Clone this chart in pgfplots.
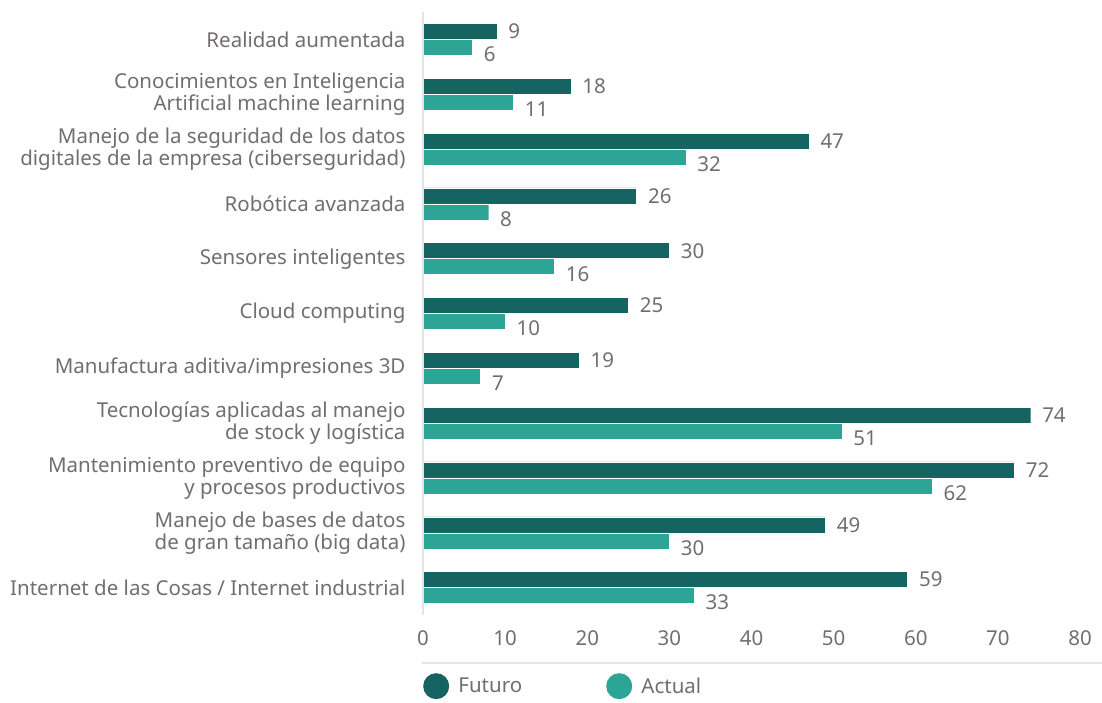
\documentclass[border=0pt]{standalone}
\usepackage{pgfplots}
\pgfplotsset{compat=1.18}
\usepackage{fontspec}
\setmainfont{Noto Sans}
\definecolor{futuro}{RGB}{22,100,98}
\definecolor{actual}{RGB}{44,165,151}
\definecolor{txt}{RGB}{115,110,110}
\definecolor{axisgray}{RGB}{228,228,228}
\begin{document}
\begin{tikzpicture}
\path[use as bounding box] (0pt,0pt) rectangle (1102pt,702pt);
\begin{axis}[
  at={(423pt,87pt)}, anchor=south west,
  width=657pt, height=603pt, scale only axis,
  xbar, bar width=16pt,
  xmin=0, xmax=80, ymin=-0.5, ymax=10.5,
  xtick={0,10,...,80},
  ytick={0,...,10},
  yticklabels={
    {Internet de las Cosas / Internet industrial},
    {Manejo de bases de datos\\de gran tamaño (big data)},
    {Mantenimiento preventivo de equipo\\y procesos productivos},
    {Tecnologías aplicadas al manejo\\de stock y logística},
    {Manufactura aditiva/impresiones 3D},
    {Cloud computing},
    {Sensores inteligentes},
    {Robótica avanzada},
    {Manejo de la seguridad de los datos\\digitales de la empresa (ciberseguridad)},
    {Conocimientos en Inteligencia\\Artificial machine learning},
    {Realidad aumentada}},
  yticklabel style={align=right, font=\fontsize{20.5}{22}\selectfont, text=txt, xshift=-14pt},
  xticklabel style={font=\fontsize{20.5}{22}\selectfont, text=txt, yshift=-12pt},
  /pgf/number format/assume math mode=true,
  major tick length=0pt,
  axis line style={draw=none},
  extra description/.code={\draw[axisgray, line width=1.5pt] (axis cs:0,-0.5) -- (axis cs:0,10.5);},
  nodes near coords,
  nodes near coords style={font=\fontsize{20.5}{22}\selectfont, text=txt, anchor=west, xshift=8pt},
  legend style={draw=none, at={(rel axis cs:-0.0,-0.118)}, anchor=west, legend columns=2,
    font=\fontsize{20.5}{22}\selectfont, text=txt, inner xsep=0pt,
    /tikz/every even column/.append style={column sep=82pt}},
  legend image code/.code={\fill[#1,draw=none] (0pt,0pt) circle (13pt); \path (20pt,0pt);},
]
\addplot[fill=futuro, draw=white, line width=0.4pt, bar shift=8pt] coordinates {
  (59,0) (49,1) (72,2) (74,3) (19,4) (25,5) (30,6) (26,7) (47,8) (18,9) (9,10)};
\addplot[fill=actual, draw=white, line width=0.4pt, bar shift=-8pt,
  nodes near coords style={yshift=-7pt}] coordinates {
  (33,0) (30,1) (62,2) (51,3) (7,4) (10,5) (16,6) (8,7) (32,8) (11,9) (6,10)};
\legend{Futuro, Actual}
\end{axis}
\draw[axisgray, line width=2pt] (422pt,39pt) -- (1102pt,39pt);
\end{tikzpicture}
\end{document}
